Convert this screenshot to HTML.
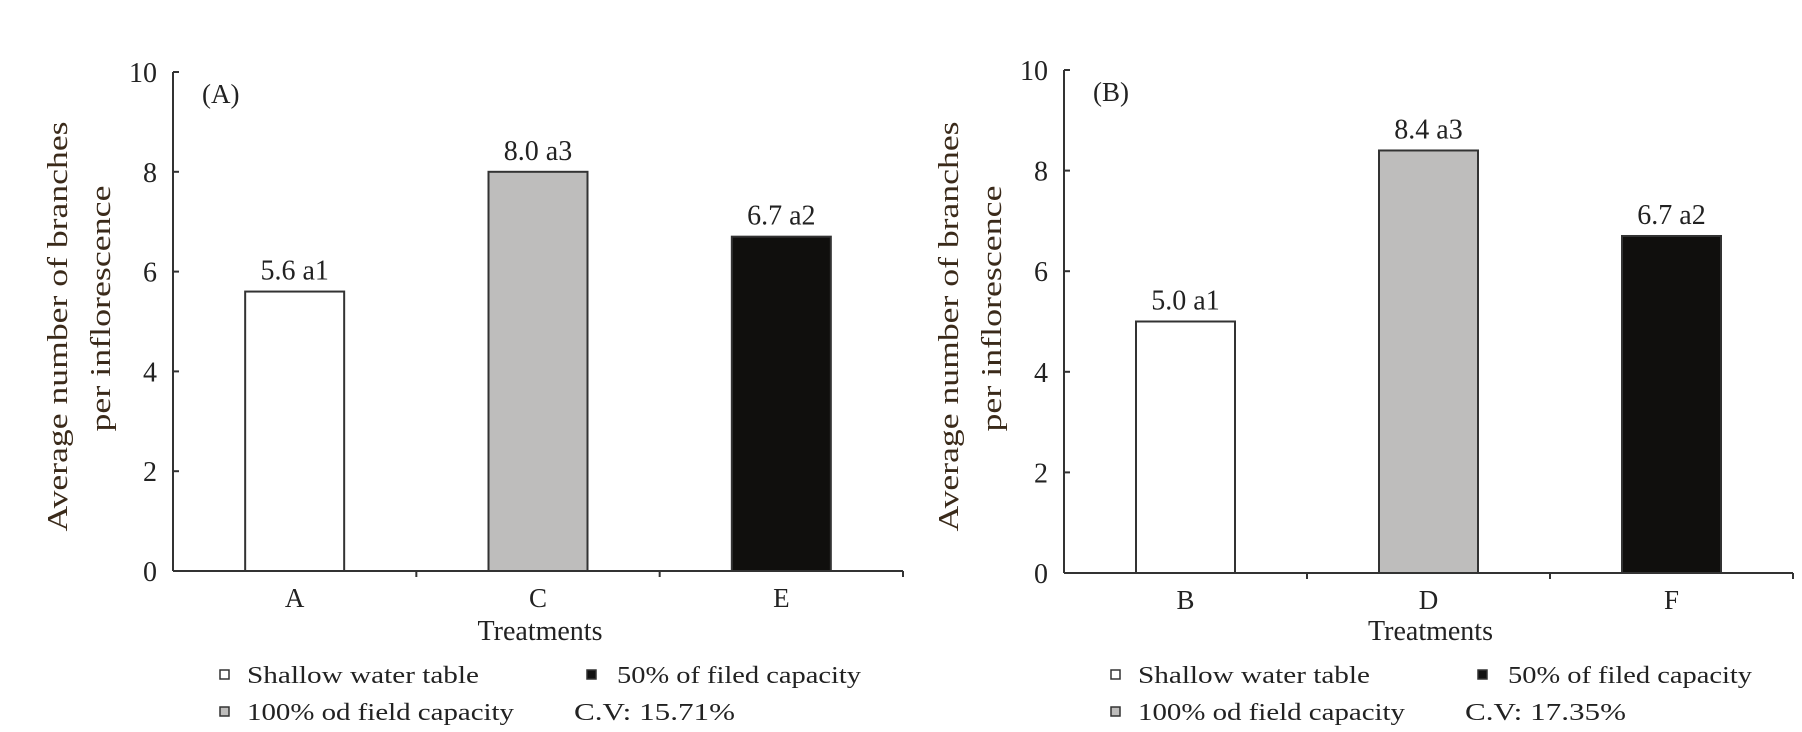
<!DOCTYPE html>
<html><head><meta charset="utf-8"><style>
html,body{margin:0;padding:0;background:#fff;}
svg{display:block;font-family:"Liberation Serif",serif;fill:#222;}
</style></head><body>
<svg id="chart" width="1802" height="732" viewBox="0 0 1802 732" xmlns="http://www.w3.org/2000/svg"></svg>
<script>
const panelLabels = ["(A)", "(B)"];
const categoriesA = ["A", "C", "E"];
const valuesA = [5.6, 8.0, 6.7];
const valueLabelsA = ["5.6 a1", "8.0 a3", "6.7 a2"];
const categoriesB = ["B", "D", "F"];
const valuesB = [5.0, 8.4, 6.7];
const valueLabelsB = ["5.0 a1", "8.4 a3", "6.7 a2"];
const yTicks = [0, 2, 4, 6, 8, 10];
const cvLabels = ["C.V: 15.71%", "C.V: 17.35%"];
const fills = ["#ffffff", "#bebdbc", "#100f0d"];

const NS = "http://www.w3.org/2000/svg";
const svg = document.getElementById("chart");
function mk(tag, attrs, parent, text) {
  const e = document.createElementNS(NS, tag);
  for (const k in attrs) e.setAttribute(k, attrs[k]);
  if (text !== undefined) e.textContent = text;
  (parent || svg).appendChild(e);
  return e;
}

const panels = [
  {x0: 173, x1: 903, y0: 571, y10: 72, cats: categoriesA, vals: valuesA, labs: valueLabelsA, dx: 0, name: "a"},
  {x0: 1064, x1: 1793, y0: 573, y10: 70, cats: categoriesB, vals: valuesB, labs: valueLabelsB, dx: 891, name: "b"}
];

panels.forEach((p, pi) => {
  const g = mk("g", {});
  
  
  const yS = v => p.y0 - (v / 10) * (p.y0 - p.y10);
  const band = (p.x1 - p.x0) / p.cats.length;
  const xC = i => p.x0 + band * (i + 0.5);
  const bw = 99;

  // bars
  p.vals.forEach((v, i) => {
    const r = mk("rect", {x: xC(i) - bw / 2, y: yS(v), width: bw, height: p.y0 - yS(v), fill: fills[i], stroke: "#333", "stroke-width": 2}, g);
    
    
    const t = mk("text", {x: xC(i), y: yS(v) - 12, "text-anchor": "middle", "font-size": 28}, g, p.labs[i]);
    
    
    const c = mk("text", {x: xC(i), y: p.y0 + 36, "text-anchor": "middle", "font-size": 27}, g, p.cats[i]);
    
    
  });

  // axes
  const ya = mk("line", {x1: p.x0, y1: p.y10, x2: p.x0, y2: p.y0, stroke: "#333", "stroke-width": 2}, g);
  
  
  const xa = mk("line", {x1: p.x0, y1: p.y0, x2: p.x1, y2: p.y0, stroke: "#333", "stroke-width": 2}, g);
  
  
  for (let i = 1; i <= p.cats.length; i++) {
    const tx = p.x0 + band * i;
    const tk = mk("line", {x1: tx, y1: p.y0, x2: tx, y2: p.y0 + 6, stroke: "#333", "stroke-width": 2}, g);
    
    
  }
  yTicks.forEach(v => {
    const tk = mk("line", {x1: p.x0, y1: yS(v), x2: p.x0 + 6, y2: yS(v), stroke: "#333", "stroke-width": 2}, g);
    
    
    const t = mk("text", {x: p.x0 - 16, y: yS(v) + 10, "text-anchor": "end", "font-size": 28}, g, String(v));
    
    
  });

  // panel label
  const pl = mk("text", {x: p.x0 + 29, y: p.y10 + 31, "font-size": 27}, g, panelLabels[pi]);
  
  

  // y title
  const cy = (p.y0 + p.y10) / 2 + 5;
  const t1 = mk("text", {x: 0, y: 0, "text-anchor": "middle", "font-size": 29, textLength: 410, lengthAdjust: "spacingAndGlyphs", transform: `translate(${p.x0 - 106},${cy}) rotate(-90)`, fill: "#3a2a1a"}, g, "Average number of branches");
  
  
  const t2 = mk("text", {x: 0, y: 0, "text-anchor": "middle", "font-size": 29, textLength: 246, lengthAdjust: "spacingAndGlyphs", transform: `translate(${p.x0 - 63},${cy - 18}) rotate(-90)`, fill: "#3a2a1a"}, g, "per inflorescence");
  
  

  // x title
  const xt = mk("text", {x: (p.x0 + p.x1) / 2 + 2, y: 640, "text-anchor": "middle", "font-size": 28}, g, "Treatments");
  
  

  // legend
  const d = p.dx;
  const lg = mk("g", {}, g);
  
  
  const items = [
    {sx: 224, sy: 675, fill: "#fff", tx: 247, txt: "Shallow water table", len: 232},
    {sx: 591, sy: 675, fill: "#111", tx: 617, txt: "50% of filed capacity", len: 244},
    {sx: 224, sy: 712, fill: "#bebdbc", tx: 247, txt: "100% od field capacity", len: 267}
  ];
  items.forEach(it => {
    const s = mk("rect", {x: it.sx + d - 4, y: it.sy - 5, width: 9, height: 9, fill: it.fill, stroke: "#333", "stroke-width": 1.5}, lg);
    
    
    const t = mk("text", {x: it.tx + d, y: it.sy + 8, "font-size": 24, textLength: it.len, lengthAdjust: "spacingAndGlyphs"}, lg, it.txt);
    
    
  });
  const cv = mk("text", {x: 574 + d, y: 720, "font-size": 24, textLength: 161, lengthAdjust: "spacingAndGlyphs"}, lg, cvLabels[pi]);
  
  
});
</script>
</body></html>
